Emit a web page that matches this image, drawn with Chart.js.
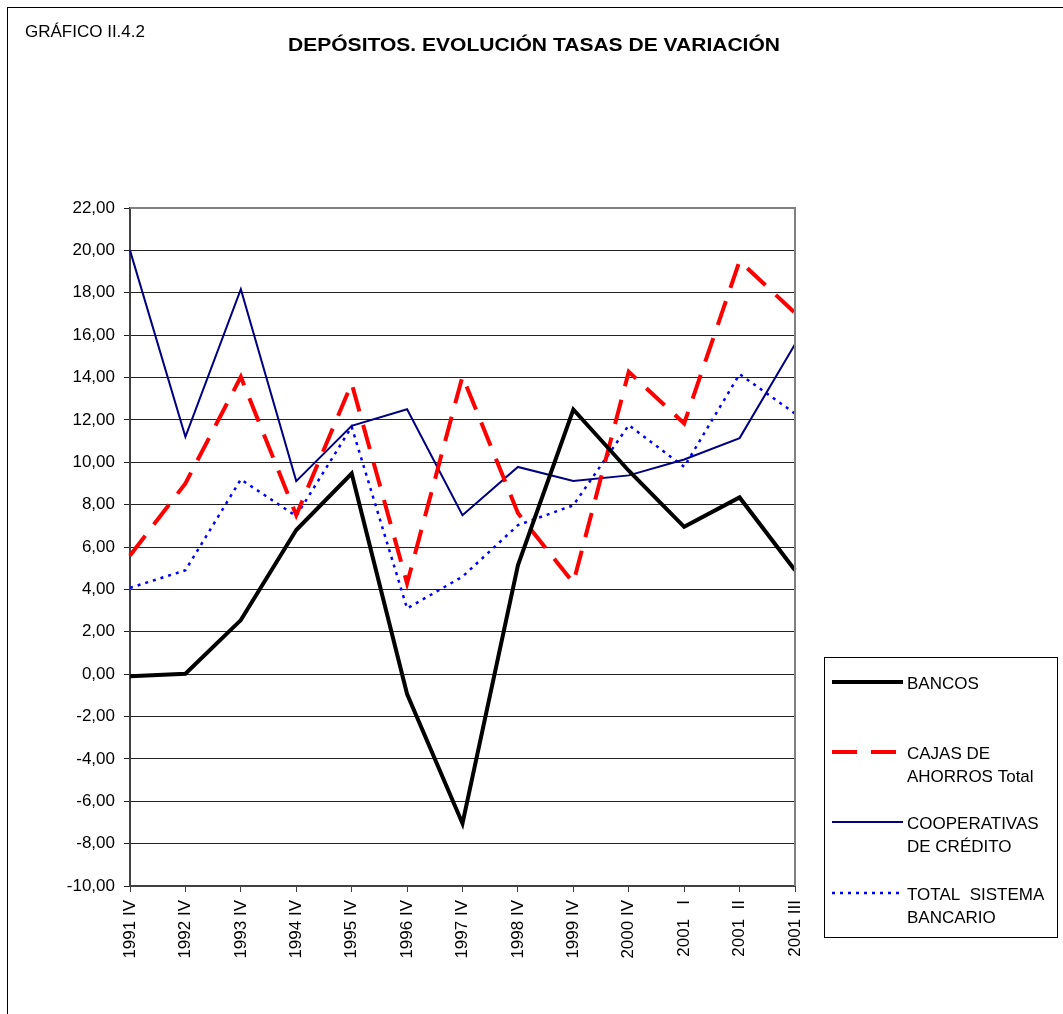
<!DOCTYPE html>
<html>
<head>
<meta charset="utf-8">
<title>Depósitos. Evolución tasas de variación</title>
<script src="https://cdn.jsdelivr.net/npm/chart.js@4/dist/chart.umd.min.js"></script>
<style>
  html, body { margin: 0; padding: 0; background: #fff; }
  canvas { display: block; }
</style>
</head>
<body>
<canvas id="depositosChart" width="1063" height="1014"></canvas>
<script>
// Chart data
const categories = ['1991 IV', '1992 IV', '1993 IV', '1994 IV', '1995 IV', '1996 IV', '1997 IV',
  '1998 IV', '1999 IV', '2000 IV', '2001   I', '2001  II', '2001 III'];

const bancos = [-0.10, 0.02, 2.55, 6.80, 9.47, -0.94, -7.05, 5.14, 12.49, 9.60, 6.95, 8.34, 4.90];
const cajas = [5.60, 9.00, 14.03, 7.50, 13.72, 4.28, 14.06, 7.60, 4.31, 14.27, 11.83, 19.50, 17.05];
const cooperativas = [20.00, 11.20, 18.17, 9.11, 11.72, 12.50, 7.50, 9.78, 9.12, 9.38, 10.13, 11.14, 15.57];
const totalSistema = [4.07, 4.90, 9.19, 7.46, 11.67, 3.10, 4.60, 7.03, 7.97, 11.75, 9.78, 14.16, 12.30];

const seriesNames = [
  ['BANCOS'],
  ['CAJAS DE', 'AHORROS Total'],
  ['COOPERATIVAS', 'DE CRÉDITO'],
  ['TOTAL  SISTEMA', 'BANCARIO']
];

const yMin = -10;
const yMax = 22;
const yStep = 2;

const chartTitle = 'DEPÓSITOS. EVOLUCIÓN TASAS DE VARIACIÓN';
const chartCode = 'GRÁFICO II.4.2';

const FONT = '"Liberation Sans", Arial, sans-serif';

// Title, frame and legend drawn around the plot
const decorPlugin = {
  id: 'decor',
  beforeDraw(chart) {
    const ctx = chart.ctx;
    ctx.save();
    ctx.fillStyle = '#fff';
    ctx.fillRect(0, 0, chart.width, chart.height);
    // outer frame (runs off the page on right and bottom)
    ctx.strokeStyle = '#000';
    ctx.lineWidth = 1;
    ctx.strokeRect(7.5, 7.5, chart.width + 20, chart.height + 20);
    ctx.restore();
  },
  afterDraw(chart) {
    const ctx = chart.ctx;
    const area = chart.chartArea;
    ctx.save();

    // top and right edges of the plot area
    ctx.strokeStyle = '#808080';
    ctx.lineWidth = 2;
    ctx.beginPath();
    ctx.moveTo(area.left, area.top);
    ctx.lineTo(area.right, area.top);
    ctx.lineTo(area.right, area.bottom);
    ctx.stroke();

    // heading texts
    ctx.fillStyle = '#000';
    ctx.textBaseline = 'alphabetic';
    ctx.textAlign = 'left';
    ctx.font = '17px ' + FONT;
    ctx.fillText(chartCode, 25, 37);

    ctx.font = 'bold 18px ' + FONT;
    const tw = ctx.measureText(chartTitle).width;
    const sx = 492 / tw;
    ctx.save();
    ctx.translate(534, 51);
    ctx.scale(sx, 1);
    ctx.textAlign = 'center';
    ctx.fillText(chartTitle, 0, 0);
    ctx.restore();

    // legend box
    ctx.strokeStyle = '#000';
    ctx.lineWidth = 1;
    ctx.strokeRect(824.5, 657.5, 233, 280);

    const rowY = [682, 752, 822, 893];
    ctx.font = '17px ' + FONT;
    chart.data.datasets.forEach((ds, i) => {
      const y = rowY[i];
      ctx.save();
      ctx.strokeStyle = ds.borderColor;
      ctx.lineWidth = ds.borderWidth;
      ctx.setLineDash(ds.borderDash || []);
      ctx.lineCap = 'butt';
      ctx.beginPath();
      ctx.moveTo(832, y);
      ctx.lineTo(903, y);
      ctx.stroke();
      ctx.restore();
      seriesNames[i].forEach((line, j) => {
        ctx.fillText(line, 907, y + 7 + j * 22.5);
      });
    });

    ctx.restore();
  }
};

function initializeChart() {
  const ctx = document.getElementById('depositosChart');
  new Chart(ctx, {
    type: 'line',
    data: {
      labels: categories,
      datasets: [
        {
          label: seriesNames[0].join(' '),
          data: bancos,
          borderColor: '#000000',
          borderWidth: 4,
          pointRadius: 0,
          tension: 0
        },
        {
          label: seriesNames[1].join(' '),
          data: cajas,
          borderColor: '#ff0000',
          borderWidth: 4,
          borderDash: [25, 14],
          pointRadius: 0,
          tension: 0
        },
        {
          label: seriesNames[2].join(' '),
          data: cooperativas,
          borderColor: '#000080',
          borderWidth: 2,
          pointRadius: 0,
          tension: 0
        },
        {
          label: seriesNames[3].join(' '),
          data: totalSistema,
          borderColor: '#0000ff',
          borderWidth: 2.5,
          borderDash: [3, 5],
          pointRadius: 0,
          tension: 0
        }
      ]
    },
    options: {
      responsive: false,
      animation: false,
      layout: {
        padding: { top: 208, right: 268, left: 0, bottom: 0 }
      },
      plugins: {
        legend: { display: false },
        title: { display: false },
        tooltip: { enabled: false }
      },
      scales: {
        x: {
          type: 'category',
          offset: false,
          afterFit(scale) { scale.height = 128; },
          grid: {
            drawOnChartArea: false,
            drawTicks: true,
            tickLength: 6,
            color: '#404040',
            lineWidth: 1
          },
          border: { color: '#404040', width: 2 },
          ticks: {
            autoSkip: false,
            minRotation: 90,
            maxRotation: 90,
            padding: 8,
            color: '#000',
            font: { family: FONT, size: 17 }
          }
        },
        y: {
          min: yMin,
          max: yMax,
          afterFit(scale) { scale.width = 130; },
          grid: {
            color: '#222',
            lineWidth: 1,
            drawTicks: true,
            tickLength: 6
          },
          border: { color: '#404040', width: 2 },
          ticks: {
            stepSize: yStep,
            padding: 9,
            color: '#000',
            font: { family: FONT, size: 17 },
            callback: v => v.toFixed(2).replace('.', ',')
          }
        }
      }
    },
    plugins: [decorPlugin]
  });
}

document.addEventListener('DOMContentLoaded', initializeChart);
</script>
</body>
</html>
